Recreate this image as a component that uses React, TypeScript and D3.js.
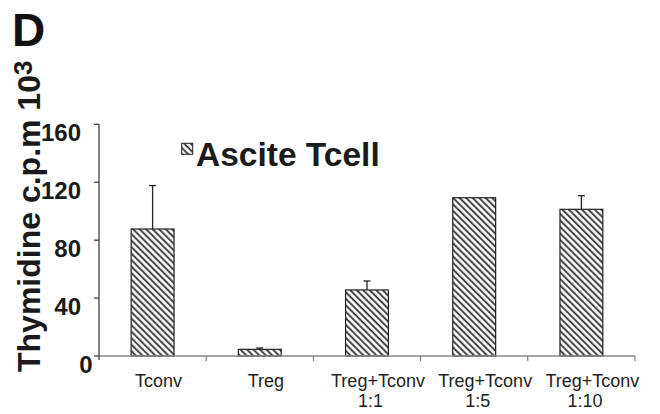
import React from "react";
import * as d3 from "d3";

const categories = ["Tconv", "Treg", "Treg+Tconv 1:1", "Treg+Tconv 1:5", "Treg+Tconv 1:10"];
const labelLine1 = ["Tconv", "Treg", "Treg+Tconv", "Treg+Tconv", "Treg+Tconv"];
const labelLine2 = ["", "", "1:1", "1:5", "1:10"];
const values = [87.7, 4.6, 45.6, 109.3, 101.3];
const errors = [30, 0.9, 6.2, 0, 9.4];
const yTicks = [0, 40, 80, 120, 160];
const seriesName = "Ascite Tcell";

const W = 660;
const H = 414;
const FONT = "'Liberation Sans', Arial, Helvetica, sans-serif";

export default function App() {
  const x = d3
    .scaleBand<string>()
    .domain(categories)
    .range([99, 635])
    .paddingInner(0.6)
    .paddingOuter(0.3);
  const y = d3.scaleLinear().domain([0, 160]).range([356, 124.3]);
  const step = x.step();
  const bounds = categories.map((c) => (x(c) as number) - (step * 0.3));
  bounds.push(635);

  return (
    <svg
      width={W}
      height={H}
      style={{ position: "absolute", left: 0, top: 0, background: "#fff" }}
      fontFamily={FONT}
    >
      <defs>
        <pattern
          id="hatch"
          patternUnits="userSpaceOnUse"
          width={4.6}
          height={4.6}
          patternTransform="rotate(-45)"
        >
          <rect width={4.6} height={4.6} fill="#fff" />
          <line x1={1.1} y1={0} x2={1.1} y2={4.6} stroke="#3a3a3a" strokeWidth={1.9} />
        </pattern>
      </defs>

      {/* Panel letter */}
      <text x={12} y={45.7} fontSize={46} fontWeight="bold" fill="#111">
        D
      </text>

      {/* Y title */}
      <text
        transform="translate(40,372) rotate(-90)"
        fontSize={32}
        fontWeight="bold"
        fill="#1a1a1a"
      >
        Thymidine c.p.m 10
        <tspan fontSize={26} dy={-8}>
          3
        </tspan>
      </text>

      {/* Bars */}
      {categories.map((c, i) => (
        <rect
          key={c}
          x={x(c)}
          y={y(values[i])}
          width={x.bandwidth()}
          height={y(0) - y(values[i])}
          fill="url(#hatch)"
          stroke="#222"
          strokeWidth={1.2}
        />
      ))}

      {/* Error bars */}
      {categories.map((c, i) => {
        if (!errors[i]) return null;
        const cx = (x(c) as number) + x.bandwidth() / 2;
        const top = y(values[i] + errors[i]);
        return (
          <g key={c} stroke="#222" strokeWidth={1.3}>
            <line x1={cx} x2={cx} y1={y(values[i])} y2={top} />
            <line x1={cx - 3.5} x2={cx + 3.5} y1={top} y2={top} />
          </g>
        );
      })}

      {/* X axis */}
      <line x1={99} x2={635} y1={y(0)} y2={y(0)} stroke="#888" strokeWidth={1.6} />
      {bounds.slice(1).map((b, i) => (
        <line key={i} x1={b} x2={b} y1={y(0)} y2={y(0) + 5} stroke="#666" strokeWidth={1} />
      ))}

      {/* Y axis */}
      <line x1={99} x2={99} y1={y(160)} y2={y(0) + 4} stroke="#333" strokeWidth={1.2} />
      {yTicks.map((t) => (
        <g key={t}>
          <line x1={94} x2={99} y1={y(t)} y2={y(t)} stroke="#333" strokeWidth={1.2} />
          <text
            x={t === 0 ? 92.5 : 81}
            y={y(t) + 17}
            textAnchor="end"
            fontSize={24}
            fontWeight="bold"
            fill="#1a1a1a"
          >
            {t}
          </text>
        </g>
      ))}

      {/* Category labels */}
      {categories.map((c, i) => {
        const cx = (x(c) as number) + x.bandwidth() / 2;
        const two = labelLine2[i] !== "";
        return (
          <g key={c} fontSize={18} fill="#222">
            <text x={cx + (two ? 11 : 6)} y={386.7} textAnchor="middle">
              {labelLine1[i]}
            </text>
            {two && (
              <text x={cx + 3.5} y={407} textAnchor="middle">
                {labelLine2[i]}
              </text>
            )}
          </g>
        );
      })}

      {/* Legend */}
      <rect x={181.7} y={143.3} width={11} height={11} fill="url(#hatch)" stroke="#222" strokeWidth={1} />
      <text x={196} y={165.7} fontSize={33.5} fontWeight="bold" fill="#1a1a1a">
        {seriesName}
      </text>
    </svg>
  );
}
